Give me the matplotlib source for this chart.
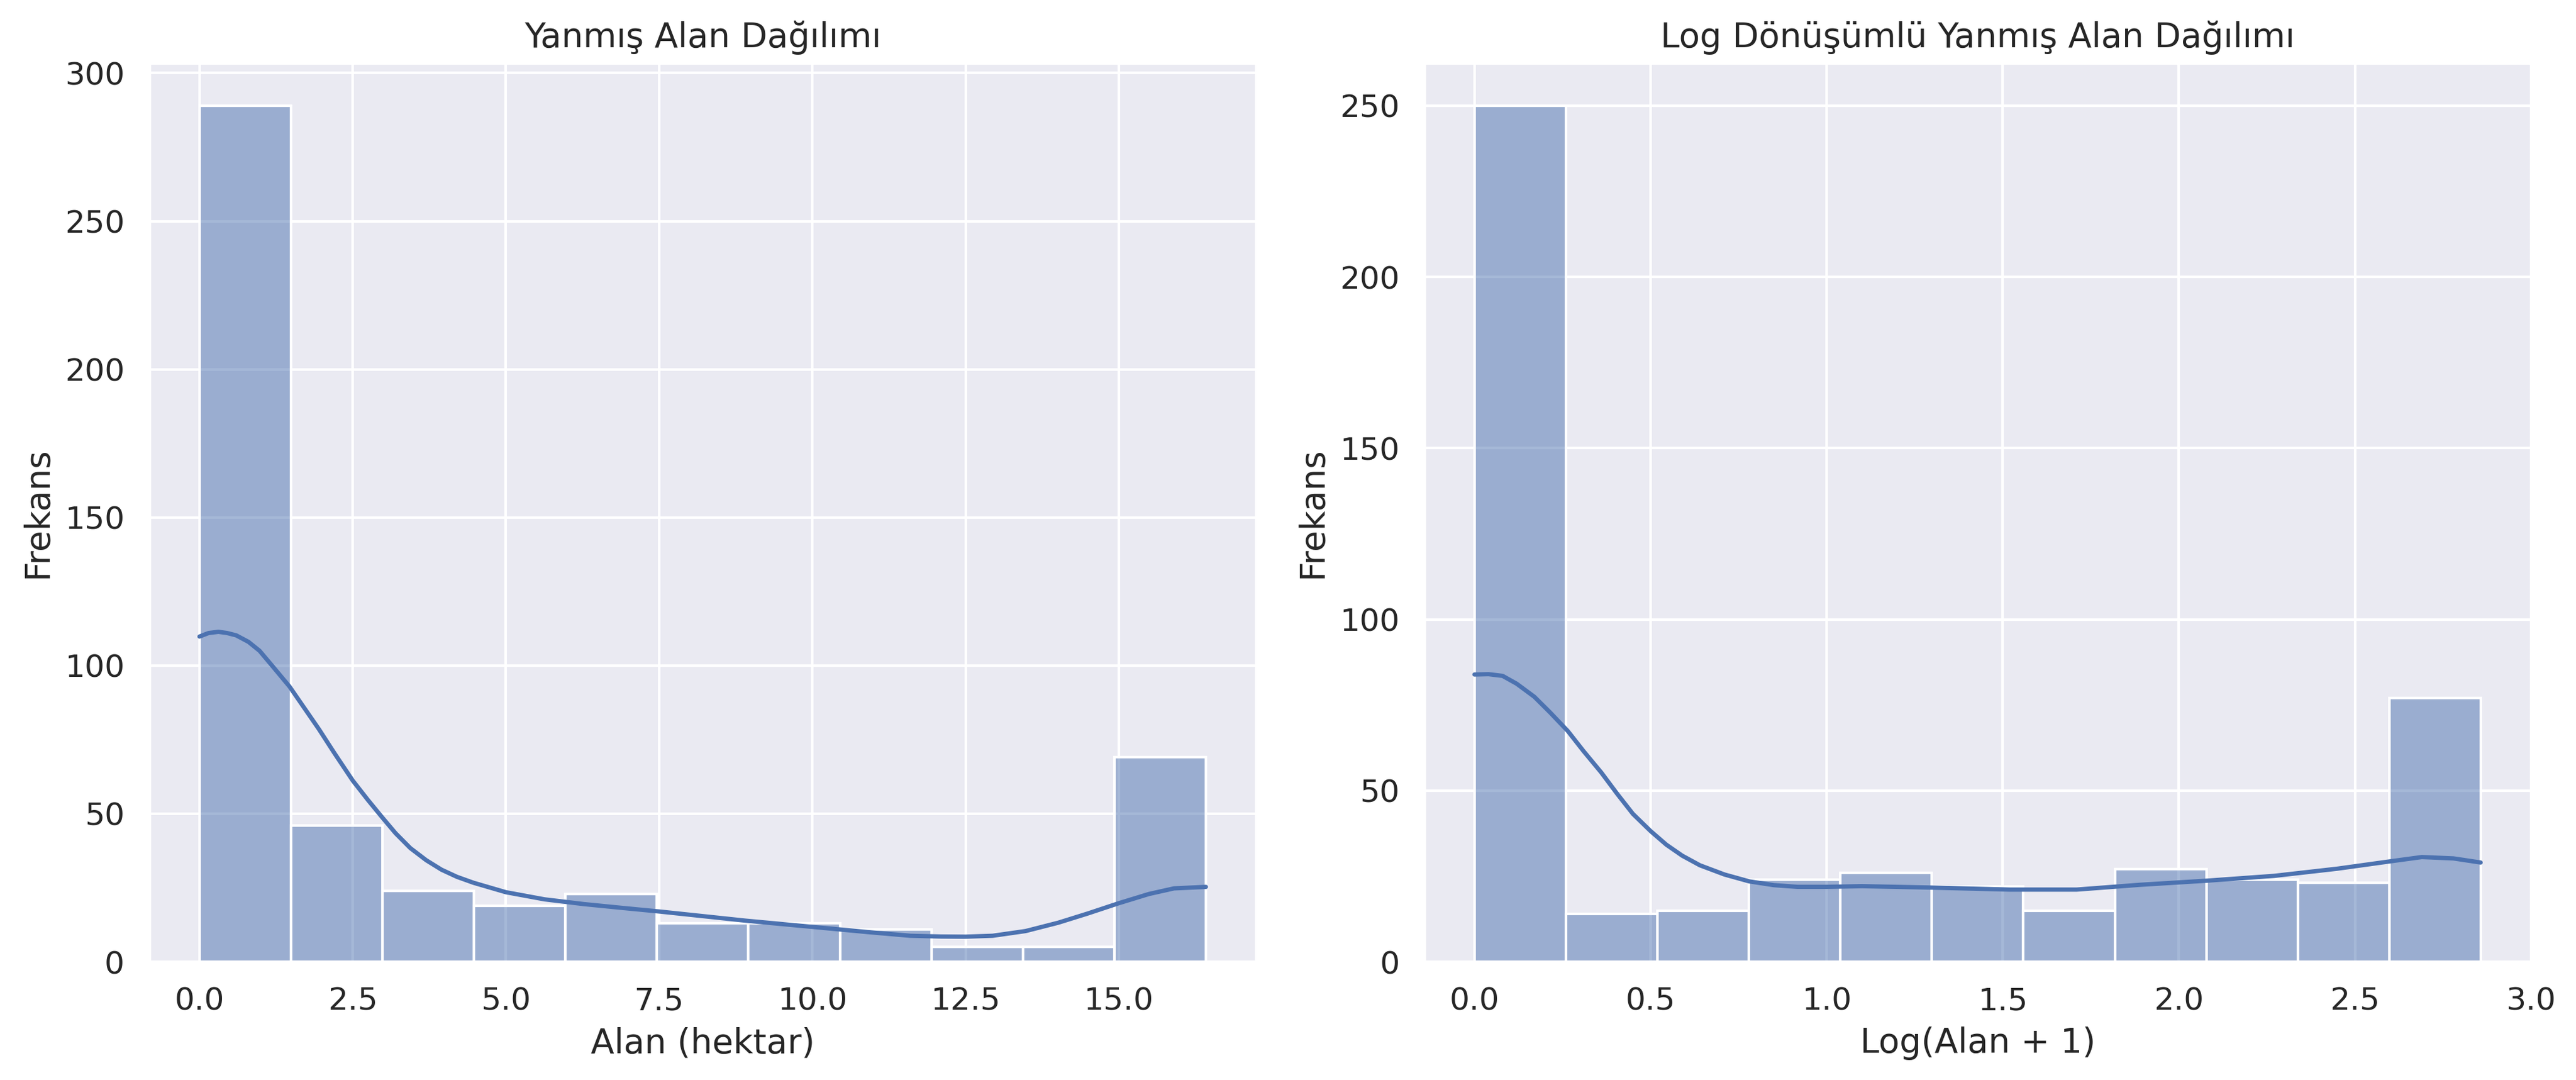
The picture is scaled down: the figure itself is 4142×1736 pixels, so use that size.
import numpy as np
import matplotlib
matplotlib.use("Agg")
import matplotlib.pyplot as plt
import seaborn as sns

# histogram counts (11 bins each)
area_min, area_max = 0.0, 16.42
area_counts = [289, 46, 24, 19, 23, 13, 13, 11, 5, 5, 69]

log_min, log_max = 0.0, np.log1p(16.42)
log_counts = [250, 14, 15, 24, 26, 22, 15, 27, 24, 23, 77]

# kde curves (in count units)
area_kde_x = [0.0, 0.15, 0.31, 0.45, 0.6, 0.8, 0.98, 1.2, 1.47, 1.7, 1.95, 2.2, 2.5, 2.75,
              2.98, 3.2, 3.44, 3.7, 3.95, 4.2, 4.47, 5.0, 5.63, 6.27, 6.9, 7.5, 8.91,
              10.0, 10.93, 11.6, 12.1, 12.5, 12.94, 13.48, 14.01, 14.49, 15.0, 15.49,
              15.9, 16.42]
area_kde_y = [109.8, 111.0, 111.4, 111.0, 110.2, 108.0, 105.0, 99.6, 92.9, 86.0, 78.5,
              70.5, 61.2, 54.6, 48.8, 43.4, 38.4, 34.3, 31.1, 28.7, 26.7, 23.5, 21.1,
              19.5, 18.2, 17.0, 13.9, 11.8, 10.0, 8.8, 8.55, 8.5, 8.8, 10.4, 13.2, 16.3,
              19.8, 22.9, 24.8, 25.3]

log_kde_x = [0.0, 0.04, 0.08, 0.12, 0.17, 0.215, 0.265, 0.31, 0.36, 0.405, 0.45, 0.5,
             0.545, 0.59, 0.64, 0.71, 0.78, 0.85, 0.917, 1.0, 1.10, 1.29, 1.52, 1.71,
             1.89, 2.08, 2.27, 2.45, 2.59, 2.69, 2.78, 2.857]
log_kde_y = [83.9, 84.0, 83.5, 81.2, 77.4, 72.8, 67.4, 61.5, 55.3, 49.1, 43.2, 38.2,
             34.2, 31.0, 28.2, 25.5, 23.5, 22.4, 21.9, 21.9, 22.1, 21.7, 21.1, 21.1,
             22.5, 23.7, 25.1, 27.2, 29.2, 30.6, 30.2, 29.0]

sns.set_theme(style="darkgrid", font_scale=1.1)

color = sns.color_palette("deep")[0]


def draw_hist(ax, lo, hi, counts, kde_x, kde_y, title, xlabel):
    edges = np.linspace(lo, hi, len(counts) + 1)
    ax.bar(edges[:-1], counts, width=np.diff(edges), align="edge",
           facecolor=(*color, 0.5), edgecolor="white", linewidth=1.0)
    ax.plot(kde_x, kde_y, color=color, linewidth=1.65)
    ax.set_title(title)
    ax.set_xlabel(xlabel)
    ax.set_ylabel("Frekans")


fig, axs = plt.subplots(1, 2, figsize=(4142 / 300, 1736 / 300), dpi=300)
fig.subplots_adjust(left=0.0579, right=0.9826, bottom=0.1094, top=0.9418, wspace=0.1517)

draw_hist(axs[0], area_min, area_max, area_counts, area_kde_x, area_kde_y,
          "Yanmış Alan Dağılımı", "Alan (hektar)")
draw_hist(axs[1], log_min, log_max, log_counts, log_kde_x, log_kde_y,
          "Log Dönüşümlü Yanmış Alan Dağılımı", "Log(Alan + 1)")

fig.savefig("out.png", dpi=300)
